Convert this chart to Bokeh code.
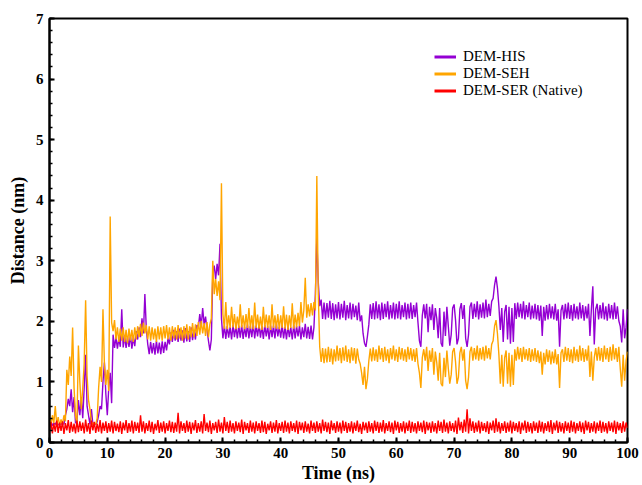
import numpy as np
from bokeh.plotting import figure
from bokeh.models import Legend, LegendItem, Range1d, SingleIntervalTicker
from bokeh.embed import file_html
from bokeh.resources import INLINE

# sampling times of the trajectory (ns), every 0.25 ns from 0 to 100
time_ns = [i * 0.25 for i in range(401)]

# DEM-HIS distance (nm)
dem_his = [
    0.30,0.35,0.28,0.32,0.30,0.34,0.29,0.31,0.30,0.33,0.30,0.45,0.55,0.72,0.60,0.88,0.50,0.75,0.32,0.35,
    0.70,0.45,0.75,0.40,0.90,1.45,0.60,0.45,0.30,0.55,0.30,0.32,0.30,0.34,0.45,0.60,0.55,1.00,1.32,0.80,
    0.45,0.90,1.15,0.65,1.78,1.56,1.74,1.55,1.72,1.58,2.20,1.57,1.76,1.56,1.74,1.58,1.77,1.55,1.73,1.59,
    1.84,1.70,1.90,1.74,2.05,1.80,2.45,1.88,1.62,1.46,1.66,1.47,1.64,1.45,1.68,1.47,1.65,1.46,1.67,1.48,
    1.66,1.52,1.72,1.62,1.82,1.66,1.86,1.68,1.84,1.66,1.88,1.68,1.85,1.65,1.89,1.67,1.84,1.66,1.90,1.69,
    1.86,1.70,1.94,1.90,2.12,1.92,2.22,1.95,2.08,1.86,1.68,1.52,1.70,2.78,2.92,2.70,2.95,2.76,3.28,2.05,
    1.72,1.93,1.71,1.92,1.73,1.91,1.70,1.94,1.74,1.92,1.72,1.93,1.73,1.94,1.71,1.91,1.74,1.95,1.72,1.92,
    1.74,1.96,1.72,1.93,1.75,1.95,1.73,1.92,1.71,1.94,1.75,1.92,1.70,1.93,1.74,1.93,1.72,1.96,1.75,1.91,
    1.73,1.94,1.72,1.91,1.70,1.92,1.74,1.90,1.70,1.94,1.72,1.92,1.75,1.93,1.70,1.90,1.74,1.96,1.72,1.91,
    1.71,1.93,1.70,1.90,2.45,3.38,2.65,2.25,2.36,2.04,2.31,2.03,2.30,2.06,2.34,2.04,2.30,2.02,2.28,2.05,
    2.32,2.03,2.29,2.06,2.34,2.02,2.27,2.05,2.31,2.03,2.29,2.07,2.26,2.02,2.31,2.00,2.10,1.80,1.64,1.58,
    1.75,1.95,2.28,2.04,2.30,2.03,2.33,2.05,2.28,2.02,2.31,2.04,2.29,2.07,2.33,2.03,2.27,2.05,2.31,2.03,
    2.29,2.05,2.33,2.03,2.27,2.07,2.31,2.03,2.29,2.05,2.31,2.04,2.27,2.07,2.31,1.98,1.68,1.58,2.10,2.28,
    2.05,2.29,1.82,2.24,2.02,2.28,1.86,2.22,2.05,1.72,2.22,1.64,1.58,2.16,1.76,2.24,1.92,1.60,1.78,2.22,
    2.28,2.02,1.62,1.72,2.20,2.30,2.04,2.27,1.72,1.58,1.78,2.24,2.31,2.04,2.29,2.07,2.33,2.03,2.28,2.06,
    2.31,2.05,2.36,2.07,2.29,2.09,2.33,2.38,2.60,2.74,2.55,2.25,1.86,2.22,1.66,2.16,2.27,1.70,2.24,1.63,
    2.22,1.66,2.30,2.04,2.31,2.07,2.29,2.05,2.33,2.03,2.27,2.07,2.31,2.03,2.26,2.05,2.29,2.03,2.27,2.01,
    2.26,1.76,2.24,2.01,2.27,2.03,2.29,2.05,2.25,2.03,2.29,2.01,2.20,1.58,2.18,2.27,2.03,2.29,2.05,2.31,
    2.04,2.27,2.01,2.29,2.05,2.25,2.03,2.31,2.05,2.27,2.01,2.25,2.05,2.29,1.76,2.20,2.58,1.62,2.20,2.29,
    2.03,2.27,2.05,2.31,2.03,2.25,2.01,2.29,2.05,2.27,2.03,2.31,2.04,2.25,2.01,1.92,1.65,2.20,1.72,1.90,
    2.20,
]

# DEM-SEH distance (nm)
dem_seh = [
    0.40,0.28,0.45,0.32,0.60,0.30,0.42,0.28,0.38,0.30,0.45,0.35,1.20,0.95,1.42,1.10,1.90,0.90,0.45,0.30,
    1.60,1.00,0.55,0.90,1.30,2.35,1.10,0.70,0.55,0.35,0.30,0.32,0.30,0.40,0.90,1.25,1.00,2.20,1.30,0.95,
    1.20,0.85,3.73,1.98,1.84,2.02,1.70,1.90,1.66,1.88,1.68,1.90,1.66,1.86,1.64,1.88,1.68,1.86,1.66,1.90,
    1.70,1.92,1.74,1.96,1.76,1.98,1.80,1.94,1.70,1.92,1.68,1.90,1.70,1.88,1.66,1.92,1.70,1.90,1.68,1.92,
    1.72,1.94,1.70,1.90,1.68,1.92,1.72,1.90,1.70,1.94,1.72,1.90,1.68,1.92,1.72,1.95,1.70,1.92,1.74,1.97,
    1.74,1.95,1.76,1.99,1.78,2.01,1.80,1.97,1.76,1.99,1.74,1.95,2.05,3.00,2.45,2.70,2.42,2.66,2.35,4.28,
    2.12,1.88,2.32,1.87,2.10,1.89,2.24,1.90,2.12,1.87,2.08,1.89,2.28,1.90,2.10,1.87,2.12,1.89,2.22,1.88,
    2.10,1.87,2.31,1.89,2.11,1.88,2.08,1.86,2.24,1.90,2.11,1.89,2.10,1.86,2.28,1.89,2.10,1.88,2.12,1.87,
    2.10,1.89,2.25,1.88,2.11,1.86,2.10,1.89,2.30,1.88,2.11,1.90,2.14,1.92,2.32,1.98,2.18,2.72,2.06,2.28,
    2.08,2.30,2.10,2.32,2.18,4.40,2.45,1.58,1.33,1.56,1.31,1.55,1.32,1.58,1.33,1.55,1.29,1.54,1.34,1.60,
    1.35,1.56,1.31,1.57,1.35,1.60,1.33,1.54,1.31,1.57,1.35,1.56,1.30,1.55,1.37,1.30,1.15,0.95,1.25,0.88,
    1.05,1.35,1.55,1.34,1.57,1.35,1.54,1.33,1.60,1.37,1.56,1.33,1.58,1.35,1.54,1.31,1.56,1.37,1.60,1.35,
    1.54,1.33,1.58,1.37,1.56,1.35,1.54,1.33,1.58,1.37,1.56,1.35,1.54,1.33,1.56,1.30,1.15,0.90,1.40,1.54,
    1.35,1.58,1.18,1.52,1.33,1.56,1.12,1.50,1.32,1.02,1.48,0.97,0.93,1.40,1.08,1.52,1.22,0.97,1.12,1.50,
    1.56,1.33,0.97,1.08,1.48,1.58,1.35,1.54,1.02,0.88,1.08,1.50,1.58,1.35,1.56,1.37,1.60,1.35,1.56,1.37,
    1.58,1.35,1.60,1.39,1.56,1.37,1.62,1.68,1.92,2.02,1.80,1.45,0.97,1.45,0.92,1.40,1.52,0.97,1.48,0.92,
    1.45,0.95,1.54,1.35,1.58,1.37,1.56,1.33,1.58,1.37,1.54,1.35,1.56,1.33,1.54,1.35,1.56,1.33,1.52,1.31,
    1.50,1.12,1.48,1.29,1.54,1.33,1.52,1.29,1.50,1.31,1.54,1.29,1.46,0.90,1.48,1.54,1.33,1.58,1.35,1.56,
    1.33,1.54,1.31,1.58,1.35,1.54,1.33,1.60,1.35,1.56,1.33,1.54,1.35,1.60,1.08,1.50,1.02,1.40,1.56,1.35,
    1.58,1.35,1.56,1.33,1.60,1.37,1.56,1.33,1.58,1.35,1.62,1.37,1.56,1.33,1.58,1.22,0.92,1.45,1.02,1.35,
    1.50,
]

# DEM-SER (Native) distance (nm)
dem_ser = [
    0.22,0.34,0.15,0.31,0.18,0.36,0.16,0.33,0.19,0.35,0.14,0.32,0.20,0.37,0.16,0.34,0.18,0.31,0.15,0.36,
    0.17,0.35,0.19,0.33,0.15,0.38,0.18,0.32,0.14,0.36,0.20,0.34,0.16,0.31,0.18,0.37,0.15,0.33,0.19,0.35,
    0.16,0.32,0.18,0.36,0.15,0.34,0.19,0.31,0.17,0.35,0.14,0.33,0.20,0.37,0.16,0.32,0.18,0.36,0.15,0.34,
    0.19,0.33,0.16,0.45,0.18,0.35,0.15,0.32,0.19,0.36,0.17,0.34,0.14,0.31,0.20,0.37,0.16,0.33,0.18,0.35,
    0.15,0.32,0.19,0.36,0.17,0.34,0.16,0.33,0.18,0.49,0.15,0.35,0.19,0.32,0.16,0.36,0.18,0.34,0.14,0.33,
    0.20,0.37,0.16,0.32,0.18,0.35,0.15,0.47,0.19,0.33,0.17,0.36,0.14,0.32,0.20,0.34,0.16,0.38,0.18,0.33,
    0.15,0.42,0.19,0.34,0.16,0.36,0.18,0.32,0.15,0.35,0.19,0.33,0.17,0.38,0.14,0.34,0.20,0.32,0.16,0.36,
    0.18,0.33,0.15,0.35,0.19,0.32,0.16,0.36,0.17,0.34,0.14,0.31,0.20,0.35,0.16,0.33,0.18,0.37,0.15,0.32,
    0.19,0.34,0.16,0.36,0.18,0.33,0.15,0.35,0.19,0.32,0.17,0.36,0.14,0.34,0.20,0.33,0.16,0.35,0.18,0.31,
    0.15,0.36,0.19,0.33,0.16,0.35,0.18,0.32,0.15,0.38,0.19,0.34,0.17,0.33,0.14,0.36,0.20,0.32,0.16,0.35,
    0.18,0.33,0.15,0.36,0.19,0.34,0.16,0.32,0.18,0.35,0.15,0.33,0.19,0.36,0.17,0.31,0.14,0.34,0.20,0.33,
    0.16,0.35,0.18,0.32,0.15,0.36,0.19,0.34,0.16,0.33,0.18,0.37,0.15,0.32,0.19,0.35,0.17,0.33,0.14,0.36,
    0.20,0.34,0.16,0.32,0.18,0.35,0.15,0.33,0.19,0.36,0.16,0.34,0.18,0.32,0.15,0.35,0.19,0.33,0.17,0.36,
    0.14,0.34,0.20,0.33,0.16,0.35,0.18,0.32,0.15,0.36,0.19,0.34,0.16,0.38,0.18,0.33,0.15,0.35,0.19,0.32,
    0.17,0.36,0.14,0.41,0.20,0.34,0.16,0.38,0.18,0.55,0.15,0.40,0.19,0.35,0.16,0.33,0.18,0.36,0.15,0.34,
    0.19,0.32,0.17,0.35,0.14,0.33,0.20,0.36,0.16,0.40,0.18,0.34,0.15,0.32,0.19,0.35,0.16,0.33,0.18,0.36,
    0.15,0.34,0.19,0.32,0.17,0.35,0.14,0.33,0.20,0.36,0.16,0.34,0.18,0.32,0.15,0.35,0.19,0.33,0.16,0.36,
    0.18,0.34,0.15,0.32,0.19,0.35,0.17,0.37,0.14,0.33,0.20,0.36,0.16,0.34,0.18,0.32,0.15,0.35,0.19,0.33,
    0.16,0.36,0.18,0.34,0.15,0.32,0.19,0.35,0.17,0.33,0.14,0.36,0.20,0.34,0.16,0.32,0.18,0.35,0.15,0.33,
    0.19,0.36,0.16,0.34,0.18,0.32,0.15,0.35,0.19,0.33,0.17,0.36,0.14,0.34,0.20,0.32,0.16,0.35,0.18,0.33,
    0.24,
]

assert len(dem_his) == len(time_ns), len(dem_his)
assert len(dem_seh) == len(time_ns), len(dem_seh)
assert len(dem_ser) == len(time_ns), len(dem_ser)

series_labels = ["DEM-HIS", "DEM-SEH", "DEM-SER (Native)"]
series_colors = ["#9400D3", "#FFA500", "#FF0000"]

FONT = "Liberation Serif"

p = figure(width=642, height=485, output_backend="svg", toolbar_location=None,
           x_range=Range1d(0, 100), y_range=Range1d(0, 7),
           min_border_left=49, min_border_right=15, min_border_top=18, min_border_bottom=42,
           background_fill_color="white", border_fill_color="white")
p.grid.visible = False
p.outline_line_color = "black"
p.outline_line_width = 2

r_his = p.line(time_ns, dem_his, line_color=series_colors[0], line_width=1.4)
r_seh = p.line(time_ns, dem_seh, line_color=series_colors[1], line_width=1.4)
r_ser = p.line(time_ns, dem_ser, line_color=series_colors[2], line_width=1.4)

# legend swatches (thicker lines, no data)
swatches = [p.line([np.nan], [np.nan], line_color=c, line_width=3) for c in series_colors]

p.xaxis.ticker = SingleIntervalTicker(interval=10, num_minor_ticks=5)
p.yaxis.ticker = SingleIntervalTicker(interval=1, num_minor_ticks=5)
p.xaxis.axis_label = "Time (ns)"
p.yaxis.axis_label = "Distance (nm)"

for ax in (p.xaxis[0], p.yaxis[0]):
    ax.axis_line_width = 2
    ax.axis_line_color = "black"
    ax.major_tick_in = 5
    ax.major_tick_out = 0
    ax.minor_tick_in = 3
    ax.minor_tick_out = 0
    ax.major_tick_line_width = 2
    ax.minor_tick_line_width = 1.5
    ax.major_tick_line_color = "black"
    ax.minor_tick_line_color = "black"
    ax.major_label_text_font = FONT
    ax.major_label_text_font_style = "bold"
    ax.major_label_text_font_size = "15px"
    ax.major_label_text_color = "black"
    ax.axis_label_text_font = FONT
    ax.axis_label_text_font_style = "bold"
    ax.axis_label_text_font_size = "18px"
    ax.axis_label_text_color = "black"

p.xaxis.major_label_standoff = 5
p.xaxis.axis_label_standoff = 2
p.yaxis.major_label_standoff = 6
p.yaxis.axis_label_standoff = 5

legend = Legend(
    items=[LegendItem(label=lab, renderers=[r]) for lab, r in zip(series_labels, swatches)],
    location=(385, 343), orientation="vertical",
    border_line_color=None, background_fill_alpha=0,
    padding=0, margin=0, spacing=0,
    glyph_width=22, glyph_height=17, label_height=17, label_standoff=7,
    label_text_font=FONT, label_text_font_size="15px", label_text_color="black",
)
p.add_layout(legend)

open("out.html", "w").write(file_html(p, INLINE))
